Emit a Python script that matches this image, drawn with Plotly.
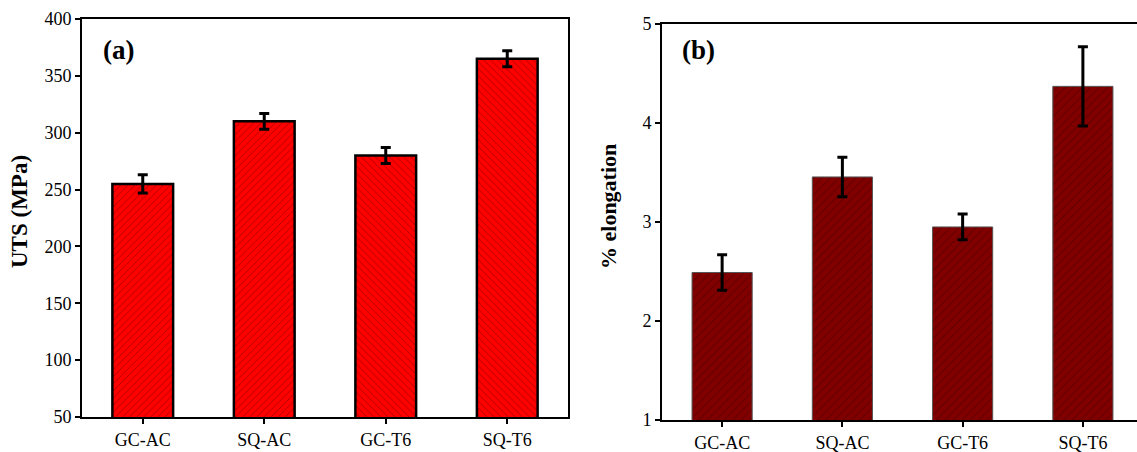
import plotly.graph_objects as go
from plotly.subplots import make_subplots

categories = ["GC-AC", "SQ-AC", "GC-T6", "SQ-T6"]
uts_values = [255, 310, 280, 365]
uts_errors = [8, 7, 7, 7]
elong_values = [2.49, 3.455, 2.95, 4.37]
elong_errors = [0.18, 0.2, 0.13, 0.4]
uts_ticks = [50, 100, 150, 200, 250, 300, 350, 400]
elong_ticks = [1, 2, 3, 4, 5]

W, H = 1137, 452
FONT = "Liberation Serif, Times New Roman, serif"

fig = make_subplots(rows=1, cols=2)

fig.add_trace(go.Bar(
    x=categories, y=uts_values, width=0.5,
    marker=dict(color="#FF0000", line=dict(color="black", width=2.5),
                pattern=dict(shape=["/", "/", "\\", "\\"], fgcolor="#400000",
                             size=5, solidity=0.15)),
    error_y=dict(type="data", array=uts_errors, color="black", thickness=3, width=5),
    showlegend=False), row=1, col=1)

fig.add_trace(go.Bar(
    x=categories, y=elong_values, width=0.5,
    marker=dict(color="#800000", line=dict(color="#555555", width=1),
                pattern=dict(shape="/", fgcolor="#2a0000", size=6, solidity=0.15)),
    error_y=dict(type="data", array=elong_errors, color="black", thickness=3, width=5),
    showlegend=False), row=1, col=2)

def px_x(p):
    return p / W

def px_y(p):
    return 1 - p / H

axis_common = dict(showline=True, linecolor="black", linewidth=2, ticks="outside",
                   ticklen=5, tickwidth=2, tickcolor="black", showgrid=False,
                   zeroline=False, automargin=False,
                   tickfont=dict(family=FONT, size=18, color="black"))

fig.update_xaxes(domain=[px_x(82), px_x(568)], range=[-0.5, 3.5], mirror=True,
                 row=1, col=1, **axis_common)
fig.update_yaxes(domain=[px_y(417), px_y(19)], range=[50, 400], tickvals=uts_ticks,
                 mirror=True, row=1, col=1, **axis_common)
fig.update_xaxes(domain=[px_x(662), 1.0], range=[-0.5, 3.45], mirror=True,
                 row=1, col=2, **axis_common)
fig.update_yaxes(domain=[px_y(420), px_y(24)], range=[1, 5], tickvals=elong_ticks,
                 mirror=False, row=1, col=2, **axis_common)

def note(text, x, y, size, angle=0):
    fig.add_annotation(text=text, x=px_x(x), y=px_y(y), xref="paper", yref="paper",
                       xanchor="center", yanchor="middle", textangle=angle,
                       showarrow=False, font=dict(family=FONT, size=size, color="black"))

note("<b>UTS (MPa)</b>", 19, 212, 23, -90)
note("<b>% elongation</b>", 608, 207, 22, -90)
note("<b>(a)</b>", 118, 50, 27)
note("<b>(b)</b>", 698, 50, 27)

fig.update_layout(width=W, height=H, margin=dict(l=0, r=0, t=0, b=0),
                  plot_bgcolor="white", paper_bgcolor="white", bargap=0.5,
                  font=dict(family=FONT, color="black"))

fig.write_html("out.html", config={"displayModeBar": False},
               post_script="document.body.style.margin='0';"
                           "document.body.style.padding='0';"
                           "document.body.style.overflow='hidden';")
